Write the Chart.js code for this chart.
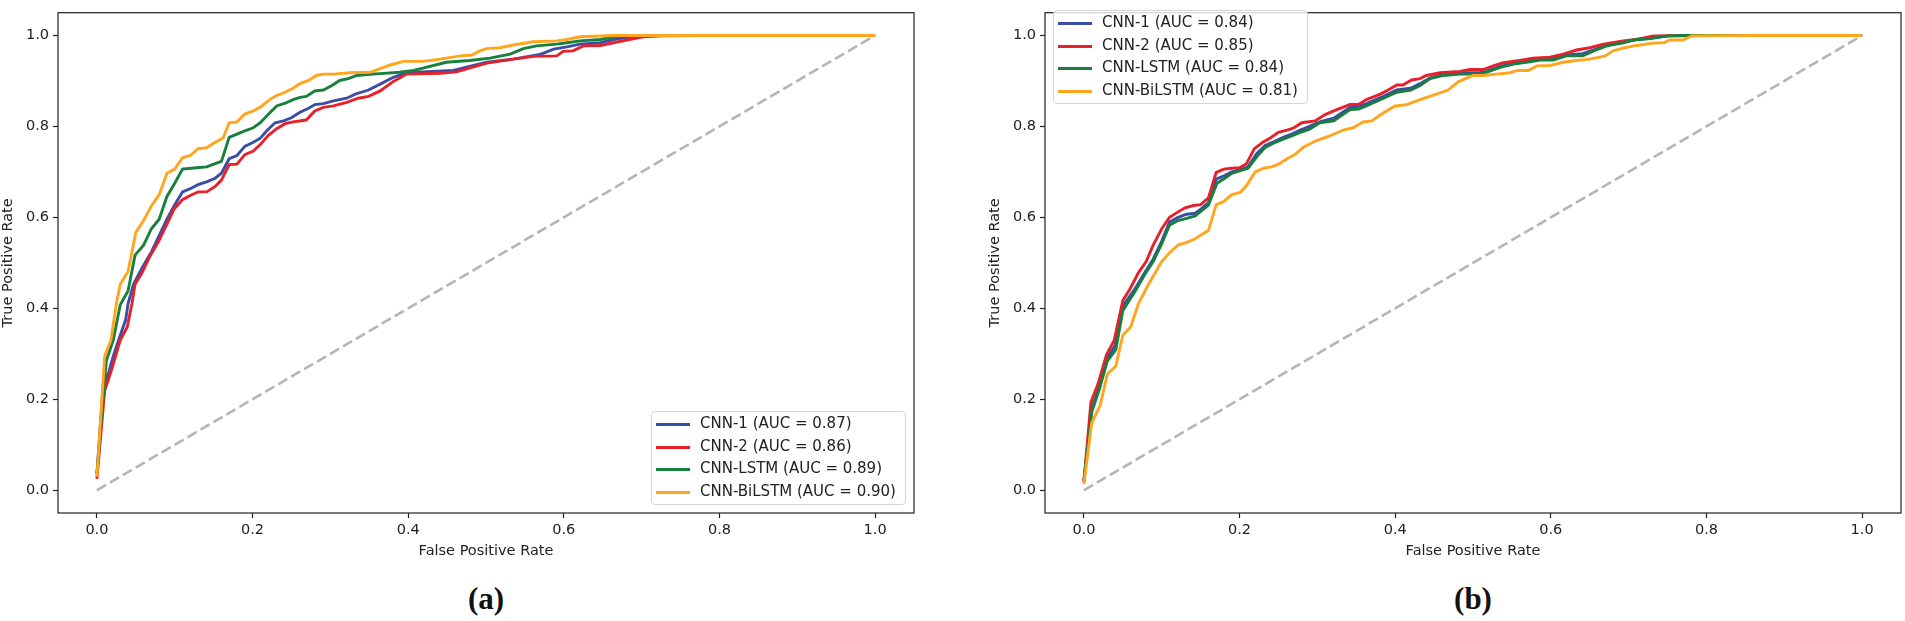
<!DOCTYPE html>
<html>
<head>
<meta charset="utf-8">
<script src="https://cdn.jsdelivr.net/npm/chart.js@4.4.1/dist/chart.umd.min.js"></script>
<style>
    body { margin: 0; background: #fff; }
    #wrap { position: relative; width: 1905px; height: 621px; overflow: hidden; }
    canvas { position: absolute; top: 0; }
    .legend { position: absolute; width: 253px; height: 92px; border: 1px solid #d6d6d6; border-radius: 4px; background: rgba(255,255,255,0.8); }
    .row { position: absolute; left: 0; height: 20px; font-family: "DejaVu Sans"; font-size: 15px; color: #222; white-space: nowrap; }
    .row span.sw { position: absolute; left: 4px; top: 9px; width: 34px; height: 3px; }
    .row span.tx { position: absolute; left: 48px; top: 0px; }
    .cap { position: absolute; font-family: "Liberation Serif"; font-weight: bold; font-size: 31px; color: #111; transform: translateX(-50%); }
</style>
</head>
<body>
<div id="wrap">
    <canvas id="chartA" width="950" height="562" style="left:0px"></canvas>
    <canvas id="chartB" width="918" height="562" style="left:987px"></canvas>
    <div class="legend" id="legA" style="left:651px; top:411px"></div>
    <div class="legend" id="legB" style="left:1053px; top:10px"></div>
    <div class="cap" style="left:486px; top:581px">(a)</div>
    <div class="cap" style="left:1473px; top:581px">(b)</div>
</div>
<script>
// series names and colours
var names = ['CNN-1', 'CNN-2', 'CNN-LSTM', 'CNN-BiLSTM'];
var colors = ['#3b4ea6', '#e8202a', '#16803c', '#ffa51e'];
var aucA = [0.87, 0.86, 0.89, 0.90];
var aucB = [0.84, 0.85, 0.84, 0.81];
var xTicks = [0, 0.2, 0.4, 0.6, 0.8, 1.0];
var yTicks = [0, 0.2, 0.4, 0.6, 0.8, 1.0];
var chance = [[0, 0], [1, 1]];

// (a) ROC points, [fpr, tpr]
var a_cnn1 = [[0,.036],[.008,.230],[.015,.258],[.021,.295],[.030,.341],[.037,.375],[.040,.410],[.047,.453],[.058,.489],[.070,.524],[.080,.560],[.090,.596],[.100,.628],[.110,.656],[.120,.663],[.130,.672],[.141,.678],[.152,.686],[.160,.697],[.170,.729],[.180,.736],[.190,.756],[.201,.765],[.210,.774],[.218,.790],[.229,.808],[.240,.812],[.250,.819],[.261,.831],[.272,.840],[.280,.848],[.291,.850],[.304,.856],[.321,.862],[.332,.871],[.349,.880],[.364,.893],[.381,.908],[.398,.918],[.458,.923],[.484,.934],[.501,.941],[.535,.948],[.569,.958],[.587,.970],[.604,.975],[.621,.981],[.647,.984],[.664,.991],[.685,.997],[.707,1.0],[1,1]];
var a_cnn2 = [[0,.025],[.010,.219],[.019,.266],[.030,.330],[.039,.359],[.045,.410],[.049,.453],[.058,.478],[.068,.514],[.079,.546],[.090,.585],[.099,.618],[.110,.639],[.120,.648],[.130,.656],[.141,.656],[.152,.668],[.160,.682],[.170,.716],[.180,.717],[.190,.738],[.201,.746],[.210,.760],[.220,.780],[.231,.795],[.242,.806],[.252,.810],[.269,.814],[.280,.834],[.291,.842],[.304,.845],[.321,.853],[.336,.862],[.349,.866],[.364,.878],[.381,.899],[.398,.915],[.441,.917],[.462,.920],[.501,.939],[.535,.948],[.561,.954],[.591,.955],[.599,.965],[.612,.966],[.625,.977],[.647,.978],[.664,.984],[.681,.990],[.702,.997],[.728,.999],[.775,1.0],[1,1]];
var a_lstm = [[0,.036],[.012,.284],[.021,.330],[.030,.408],[.040,.438],[.049,.517],[.060,.539],[.070,.575],[.080,.596],[.090,.646],[.100,.675],[.110,.706],[.128,.709],[.141,.711],[.152,.718],[.160,.723],[.170,.776],[.180,.783],[.190,.790],[.201,.797],[.210,.808],[.220,.826],[.231,.845],[.242,.851],[.252,.859],[.261,.864],[.269,.866],[.280,.878],[.291,.880],[.302,.890],[.312,.901],[.323,.905],[.334,.912],[.347,.914],[.364,.916],[.389,.919],[.407,.923],[.419,.928],[.449,.941],[.479,.945],[.505,.950],[.531,.959],[.548,.971],[.565,.977],[.591,.981],[.604,.984],[.621,.988],[.647,.991],[.664,.997],[.698,1.0],[1,1]];
var a_bilstm = [[0,.030],[.010,.295],[.018,.330],[.025,.410],[.030,.453],[.040,.481],[.050,.567],[.060,.593],[.070,.625],[.080,.650],[.090,.697],[.100,.706],[.110,.731],[.120,.736],[.130,.751],[.141,.753],[.152,.765],[.162,.774],[.170,.808],[.180,.810],[.190,.827],[.201,.834],[.212,.845],[.222,.859],[.231,.868],[.242,.875],[.252,.884],[.261,.894],[.272,.901],[.282,.912],[.291,.915],[.304,.915],[.325,.918],[.351,.919],[.364,.927],[.377,.935],[.394,.943],[.419,.943],[.441,.948],[.467,.955],[.482,.957],[.492,.966],[.501,.971],[.518,.973],[.535,.979],[.561,.986],[.591,.988],[.604,.991],[.621,.997],[.664,1.0],[1,1]];

// (b) ROC points, [fpr, tpr]
var b_cnn1 = [[0,.020],[.010,.180],[.020,.228],[.030,.290],[.040,.318],[.050,.405],[.065,.441],[.078,.478],[.089,.508],[.100,.548],[.110,.590],[.121,.600],[.132,.607],[.143,.609],[.151,.619],[.160,.632],[.170,.684],[.181,.692],[.190,.700],[.201,.705],[.211,.711],[.222,.740],[.233,.758],[.246,.768],[.256,.776],[.267,.783],[.278,.792],[.290,.800],[.303,.810],[.321,.818],[.342,.842],[.353,.844],[.363,.850],[.385,.866],[.402,.880],[.420,.884],[.432,.894],[.445,.907],[.462,.914],[.483,.918],[.509,.918],[.517,.921],[.535,.932],[.552,.939],[.573,.945],[.586,.948],[.603,.949],[.620,.957],[.641,.960],[.655,.968],[.672,.978],[.693,.985],[.710,.991],[.732,.995],[.752,.999],[.800,1.0],[1,1]];
var b_cnn2 = [[0,.018],[.009,.194],[.018,.233],[.029,.298],[.039,.330],[.050,.417],[.059,.442],[.070,.478],[.080,.503],[.089,.539],[.100,.575],[.110,.600],[.120,.611],[.130,.621],[.141,.626],[.150,.628],[.160,.643],[.170,.699],[.180,.706],[.190,.708],[.200,.709],[.209,.718],[.219,.751],[.230,.765],[.239,.774],[.250,.787],[.261,.792],[.269,.796],[.280,.808],[.297,.812],[.310,.826],[.325,.837],[.342,.848],[.353,.848],[.363,.859],[.381,.871],[.391,.880],[.402,.891],[.410,.891],[.421,.902],[.432,.905],[.440,.912],[.458,.918],[.483,.921],[.496,.925],[.513,.925],[.526,.933],[.539,.940],[.560,.945],[.577,.950],[.599,.952],[.616,.959],[.633,.968],[.650,.973],[.668,.981],[.693,.988],[.710,.991],[.732,.999],[.780,1.0],[1,1]];
var b_lstm = [[0,.022],[.010,.172],[.020,.223],[.030,.284],[.041,.309],[.050,.395],[.066,.438],[.078,.474],[.089,.503],[.100,.542],[.110,.583],[.121,.593],[.132,.598],[.143,.603],[.151,.614],[.160,.627],[.171,.675],[.181,.686],[.190,.697],[.201,.703],[.211,.708],[.222,.733],[.233,.754],[.246,.765],[.256,.772],[.267,.779],[.278,.787],[.290,.794],[.303,.808],[.321,.812],[.342,.837],[.353,.838],[.363,.845],[.385,.862],[.402,.875],[.420,.880],[.432,.890],[.445,.905],[.462,.912],[.483,.915],[.509,.915],[.517,.919],[.535,.930],[.552,.937],[.573,.942],[.586,.946],[.603,.946],[.620,.955],[.641,.955],[.655,.966],[.672,.977],[.693,.984],[.706,.990],[.728,.993],[.749,.999],[.774,1.0],[1,1]];
var b_bilstm = [[0,.014],[.010,.148],[.021,.187],[.030,.255],[.041,.273],[.050,.341],[.060,.359],[.070,.410],[.083,.453],[.100,.503],[.111,.524],[.121,.539],[.132,.545],[.143,.553],[.151,.562],[.160,.571],[.170,.628],[.179,.634],[.190,.650],[.201,.655],[.209,.670],[.220,.700],[.231,.708],[.241,.711],[.250,.717],[.261,.729],[.271,.738],[.282,.754],[.299,.769],[.316,.779],[.333,.792],[.346,.797],[.359,.810],[.370,.812],[.385,.830],[.400,.845],[.415,.848],[.432,.859],[.449,.869],[.468,.880],[.481,.898],[.500,.912],[.513,.912],[.530,.915],[.547,.918],[.558,.923],[.571,.923],[.582,.933],[.599,.934],[.616,.941],[.633,.945],[.650,.948],[.670,.955],[.680,.966],[.695,.973],[.710,.978],[.732,.983],[.745,.984],[.753,.990],[.770,.990],[.781,.999],[.856,1.0],[1,1]];

var FONT = 'DejaVu Sans';
var INK = '#222';

// axes frame on all four sides, like matplotlib spines
var boxPlugin = {
    id: 'box',
    afterDraw: function(chart) {
        var a = chart.chartArea, ctx = chart.ctx;
        ctx.save();
        ctx.strokeStyle = INK;
        ctx.lineWidth = 1.2;
        ctx.strokeRect(a.left, a.top, a.right - a.left, a.bottom - a.top);
        ctx.restore();
    }
};

function toXY(pts) {
    return pts.map(function(p) { return { x: p[0], y: p[1] }; });
}

function makeRoc(id, series, rightPad) {
    var datasets = [];
    for (var i = 0; i < series.length; i++) {
        datasets.push({
            label: names[i],
            data: toXY(series[i]),
            borderColor: colors[i],
            borderWidth: 2.9,
            pointRadius: 0,
            tension: 0,
            fill: false,
            order: 4 - i
        });
    }
    datasets.push({
        label: 'chance',
        data: toXY(chance),
        borderColor: '#b5b5b5',
        borderWidth: 2.6,
        borderDash: [10.5, 4.5],
        pointRadius: 0,
        fill: false,
        order: 10
    });
    return new Chart(document.getElementById(id), {
        type: 'line',
        data: { datasets: datasets },
        options: {
            responsive: false,
            animation: false,
            layout: { padding: { left: 0, top: 3, right: rightPad, bottom: 0 } },
            plugins: { legend: { display: false }, tooltip: { enabled: false } },
            scales: {
                x: {
                    type: 'linear', min: -0.05, max: 1.05,
                    afterBuildTicks: function(axis) { axis.ticks = xTicks.map(function(v) { return { value: v }; }); },
                    afterFit: function(axis) { axis.height = 49; },
                    ticks: { callback: function(v) { return v.toFixed(1); }, font: { family: FONT, size: 14.5 }, color: INK, padding: 4, maxRotation: 0, autoSkip: false },
                    grid: { drawOnChartArea: false, drawTicks: true, tickLength: 5, tickColor: INK, tickWidth: 1.2 },
                    border: { display: false },
                    title: { display: true, text: 'False Positive Rate', font: { family: FONT, size: 14.5 }, color: INK, padding: { top: 0, bottom: 2 } }
                },
                y: {
                    type: 'linear', min: -0.05, max: 1.05,
                    afterBuildTicks: function(axis) { axis.ticks = yTicks.map(function(v) { return { value: v }; }); },
                    afterFit: function(axis) { axis.width = 58; },
                    ticks: { callback: function(v) { return v.toFixed(1); }, font: { family: FONT, size: 14.5 }, color: INK, padding: 4, autoSkip: false },
                    grid: { drawOnChartArea: false, drawTicks: true, tickLength: 5, tickColor: INK, tickWidth: 1.2 },
                    border: { display: false },
                    title: { display: true, text: 'True Positive Rate', font: { family: FONT, size: 14.5 }, color: INK, padding: { top: 0, bottom: 0 } }
                }
            }
        },
        plugins: [boxPlugin]
    });
}

function makeLegend(id, auc) {
    var box = document.getElementById(id);
    for (var i = 0; i < names.length; i++) {
        var row = document.createElement('div');
        row.className = 'row';
        row.style.top = (2 + i * 22.5) + 'px';
        row.innerHTML = '<span class="sw" style="background:' + colors[i] + '"></span>' +
            '<span class="tx">' + names[i] + ' (AUC = ' + auc[i].toFixed(2) + ')</span>';
        box.appendChild(row);
    }
}

makeRoc('chartA', [a_cnn1, a_cnn2, a_lstm, a_bilstm], 36);
makeRoc('chartB', [b_cnn1, b_cnn2, b_lstm, b_bilstm], 4);
makeLegend('legA', aucA);
makeLegend('legB', aucB);
</script>
</body>
</html>
